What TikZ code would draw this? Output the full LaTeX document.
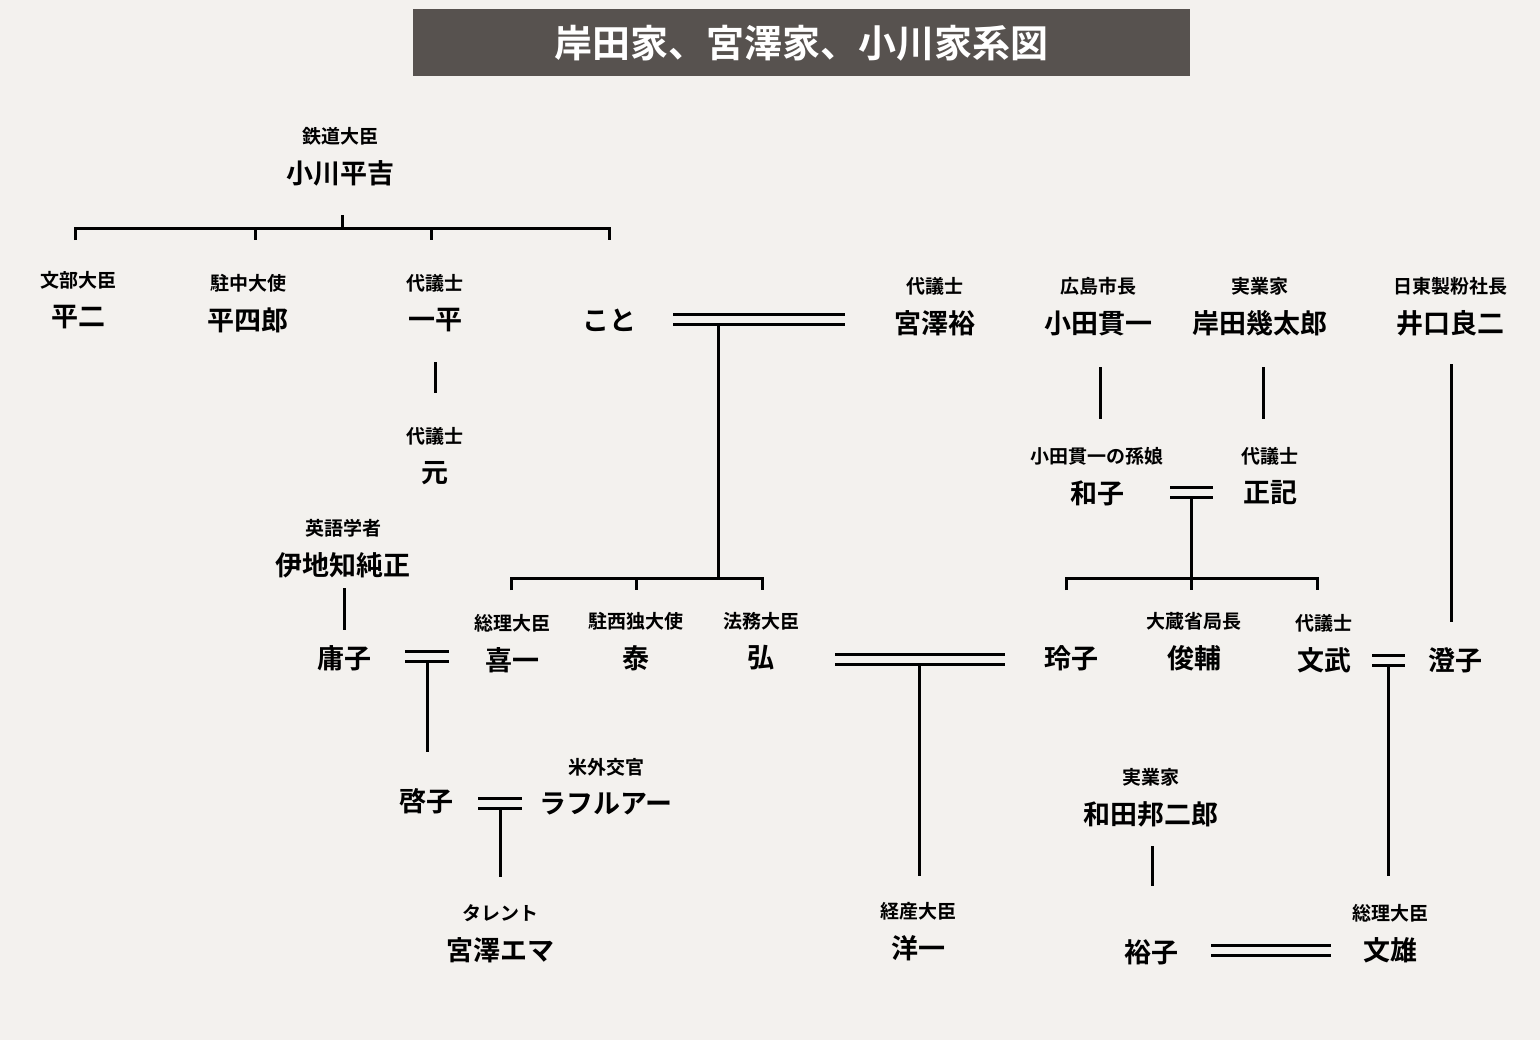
\documentclass[tikz,border=0pt]{standalone}
\usepackage{fontspec}
\setmainfont{Noto Sans CJK JP}[BoldFont={Noto Sans CJK JP Bold}]
\definecolor{bg}{HTML}{F3F1EE}
\definecolor{titlebg}{HTML}{57524F}
\tikzset{
  pname/.style={font=\bfseries\fontsize{13.5}{14}\selectfont,inner sep=0pt},
  prole/.style={font=\bfseries\fontsize{9.5}{10}\selectfont,inner sep=0pt},
  link/.style={line width=1.5pt},
  married/.style={line width=1.5pt,double=bg,double distance=3.5pt},
}
\newcommand{\person}[5]{%
  \node[pname] (#1) at (#2,#3) {#5};
  \node[prole] (#1-r) at (#2,#3-37) {#4};}
\begin{document}
\begin{tikzpicture}[x=0.5pt,y=-0.5pt]
  \fill[bg] (0,0) rectangle (1540,1040);
  \useasboundingbox (0,0) rectangle (1540,1040);
  \fill[titlebg] (413,9) rectangle (1190,76);
  \node[text=white,font=\bfseries\fontsize{19}{20}\selectfont] (title) at (801,43) {岸田家、宮澤家、小川家系図};

  % first generation
  \person{heikichi}{340}{173}{鉄道大臣}{小川平吉}
  \person{heiji}{78}{317}{文部大臣}{平二}
  \person{heishiro}{248}{320}{駐中大使}{平四郎}
  \person{ippei}{435}{320}{代議士}{一平}
  \node[pname] (koto) at (609,320) {こと};
  \person{yutaka}{935}{323}{代議士}{宮澤裕}
  \person{kanichi}{1098}{323}{広島市長}{小田貫一}
  \person{ikutaro}{1260}{323}{実業家}{岸田幾太郎}
  \person{ryoji}{1450}{323}{日東製粉社長}{井口良二}

  % second generation
  \person{hajime}{435}{473}{代議士}{元}
  \person{kazuko}{1097}{493}{小田貫一の孫娘}{和子}
  \person{masaki}{1270}{493}{代議士}{正記}
  \person{ijichi}{343}{565}{英語学者}{伊地知純正}
  \node[pname] (yoko) at (344,658) {庸子};
  \person{kiichi}{512}{660}{総理大臣}{喜一}
  \person{yasushi}{636}{658}{駐西独大使}{泰}
  \person{hiroshi}{761}{658}{法務大臣}{弘}
  \node[pname] (reiko) at (1071,658) {玲子};
  \person{shunsuke}{1194}{658}{大蔵省局長}{俊輔}
  \person{fumitake}{1324}{660}{代議士}{文武}
  \node[pname] (sumiko) at (1455,660) {澄子};

  % third generation
  \node[pname] (keiko) at (426,801) {啓子};
  \person{lafleur}{606}{804}{米外交官}{ラフルアー}
  \person{emma}{500}{950}{タレント}{宮澤エマ}
  \person{yoichi}{918}{948}{経産大臣}{洋一}
  \person{wada}{1151}{814}{実業家}{和田邦二郎}
  \node[pname] (yuko) at (1151,952) {裕子};
  \person{fumio}{1390}{950}{総理大臣}{文雄}

  % Ogawa children
  \draw[link] (342,215) -- (342,228);
  \draw[link] (75,240) -- (75,228) -- (609,228) -- (609,240);
  \foreach \x in {255,431} \draw[link] (\x,228) -- (\x,240);
  \draw[link] (435,362) -- (435,393);

  % Miyazawa
  \draw[married] (673,319) -- (845,319);
  \draw[link] (718,324) -- (718,578);
  \draw[link] (511,590) -- (511,578) -- (762,578) -- (762,590);
  \draw[link] (636,578) -- (636,590);

  % Kishida
  \draw[link] (1100,367) -- (1100,419);
  \draw[link] (1263,367) -- (1263,419);
  \draw[link] (1451,364) -- (1451,622);
  \draw[married] (1170,492) -- (1213,492);
  \draw[link] (1191,497) -- (1191,578);
  \draw[link] (1066,590) -- (1066,578) -- (1317,578) -- (1317,590);
  \draw[link] (1191,578) -- (1191,590);

  % couples
  \draw[link] (344,588) -- (344,630);
  \draw[married] (405,656) -- (449,656);
  \draw[link] (427,661) -- (427,752);
  \draw[married] (835,659) -- (1005,659);
  \draw[link] (919,664) -- (919,876);
  \draw[married] (1372,660) -- (1405,660);
  \draw[link] (1388,665) -- (1388,876);
  \draw[married] (478,803) -- (522,803);
  \draw[link] (500,808) -- (500,877);
  \draw[link] (1152,846) -- (1152,886);
  \draw[married] (1211,950) -- (1331,950);
\end{tikzpicture}
\end{document}
